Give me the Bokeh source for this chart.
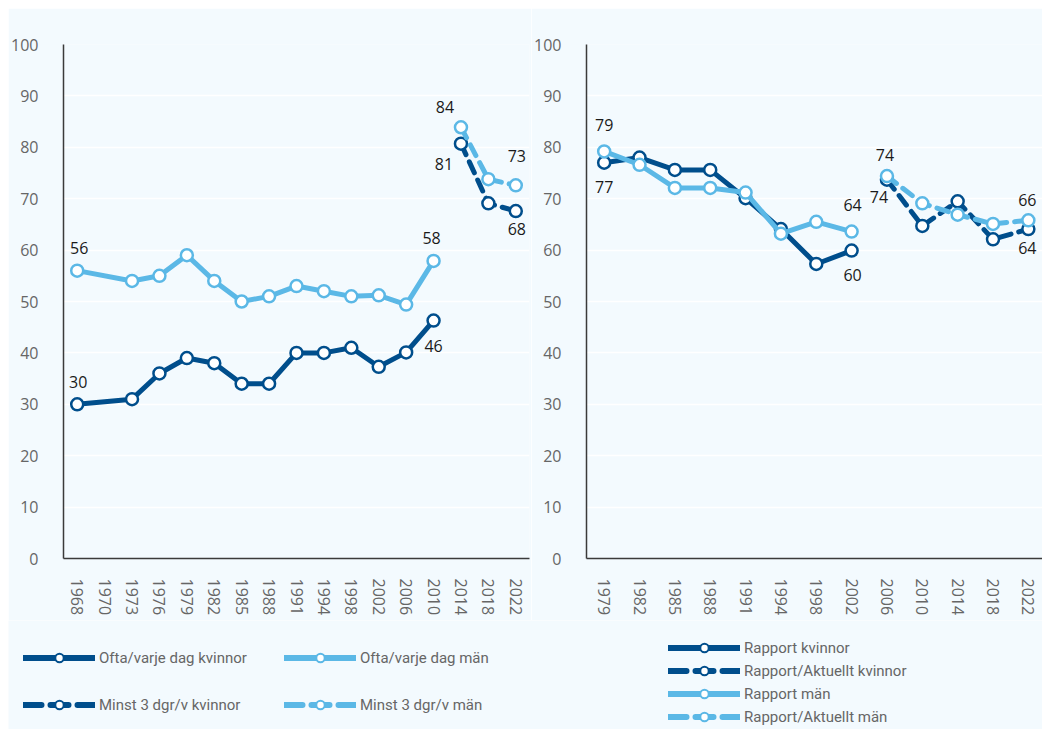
import math
from bokeh.plotting import figure
from bokeh.models import (Range1d, FixedTicker, Legend, LegendItem, ColumnDataSource)
from bokeh.layouts import column, row
from bokeh.core.properties import value
from bokeh.embed import file_html
from bokeh.resources import INLINE

# ---------------- data ----------------
left_years = ["1968", "1970", "1973", "1976", "1979", "1982", "1985", "1988", "1991",
              "1994", "1998", "2002", "2006", "2010", "2014", "2018", "2022"]
ofta_years = ["1968", "1973", "1976", "1979", "1982", "1985", "1988", "1991", "1994",
              "1998", "2002", "2006", "2010"]
ofta_kvinnor = [30, 31, 36, 39, 38, 34, 34, 40, 40, 41, 37.3, 40.1, 46.3]
ofta_man = [56, 54, 55, 59, 54, 50, 51, 53, 52, 51, 51.2, 49.4, 57.9]
minst_years = ["2014", "2018", "2022"]
minst_kvinnor = [80.7, 69.1, 67.6]
minst_man = [83.9, 73.8, 72.6]

right_years = ["1979", "1982", "1985", "1988", "1991", "1994", "1998", "2002",
               "2006", "2010", "2014", "2018", "2022"]
rapport_years = ["1979", "1982", "1985", "1988", "1991", "1994", "1998", "2002"]
rapport_kvinnor = [77.0, 78.0, 75.6, 75.6, 70.1, 64.1, 57.3, 59.9]
rapport_man = [79.2, 76.6, 72.1, 72.1, 71.2, 63.2, 65.5, 63.6]
aktuellt_years = ["2006", "2010", "2014", "2018", "2022"]
aktuellt_kvinnor = [73.7, 64.7, 69.5, 62.1, 64.1]
aktuellt_man = [74.4, 69.1, 66.9, 65.1, 65.8]

y_ticks = list(range(0, 101, 10))

# ---------------- style ----------------
BG = "#f3fafe"
DARK = "#004e8c"
LIGHT = "#5bb8e6"
AXIS = "#3a3a3a"
TICK_TXT = "#666666"
FONT = "Open Sans"
LEG_FONT = "Roboto"
DASH = "12 8"


def base_fig(width, cats, x_end, min_left, min_right):
    p = figure(width=width, height=612, output_backend="svg", toolbar_location=None,
               x_range=Range1d(-0.5, x_end), y_range=Range1d(0, 100),
               min_border_left=min_left, min_border_right=min_right,
               min_border_top=36, min_border_bottom=62)
    p.background_fill_color = BG
    p.border_fill_color = BG
    p.outline_line_color = None
    p.xgrid.grid_line_color = None
    p.ygrid.grid_line_color = "white"
    p.ygrid.grid_line_width = 1.5
    p.yaxis.ticker = FixedTicker(ticks=y_ticks)
    p.xaxis.ticker = FixedTicker(ticks=list(range(len(cats))))
    p.xaxis.major_label_overrides = {i: c for i, c in enumerate(cats)}
    p.xaxis.major_label_orientation = -math.pi / 2
    for ax in (p.xaxis, p.yaxis):
        ax.axis_line_color = AXIS
        ax.axis_line_width = 1.5
        ax.major_tick_line_color = None
        ax.minor_tick_line_color = None
        ax.major_label_text_color = TICK_TXT
        ax.major_label_text_font = FONT
        ax.major_label_text_font_size = "16px"
    p.yaxis.major_label_standoff = 19
    p.xaxis.major_label_standoff = 14
    return p


def series(p, cats, years, vals, color, dash=None):
    xs = [cats.index(y) for y in years]
    src = ColumnDataSource(dict(x=xs, y=vals))
    kw = dict(line_dash=dash, line_cap="round") if dash else dict(line_join="round")
    p.line("x", "y", source=src, line_color=color, line_width=5, **kw)
    p.scatter("x", "y", source=src, marker="circle", size=12, fill_color="white",
              line_color=color, line_width=2.5)


def labels(p, cats, entries):
    xs, ys, ts, dx, dy = [], [], [], [], []
    for years, vals, year, ox, oy in entries:
        i = years.index(year)
        xs.append(cats.index(year))
        ys.append(vals[i])
        ts.append(str(round(vals[i])))
        dx.append(ox)
        dy.append(oy)
    src = ColumnDataSource(dict(x=xs, y=ys, t=ts, dx=dx, dy=dy))
    p.text("x", "y", text="t", source=src, x_offset="dx", y_offset="dy",
           text_align="center", text_baseline="middle", text_color="#1a1a1a",
           text_font=value(FONT), text_font_size="16px")


# ---------------- left chart ----------------
left = base_fig(523, left_years, len(left_years) - 0.5, 51, 2)
series(left, left_years, ofta_years, ofta_kvinnor, DARK)
series(left, left_years, ofta_years, ofta_man, LIGHT)
series(left, left_years, minst_years, minst_kvinnor, DARK, DASH)
series(left, left_years, minst_years, minst_man, LIGHT, DASH)
labels(left, left_years, [
    (ofta_years, ofta_man, "1968", 2, -23),
    (ofta_years, ofta_kvinnor, "1968", 1, -22),
    (ofta_years, ofta_man, "2010", -2, -23),
    (ofta_years, ofta_kvinnor, "2010", 0, 25),
    (minst_years, minst_man, "2014", -16, -20),
    (minst_years, minst_kvinnor, "2014", -17, 20),
    (minst_years, minst_man, "2022", 1, -29),
    (minst_years, minst_kvinnor, "2022", 1, 18),
])

# ---------------- right chart ----------------
right = base_fig(511, right_years, 12.4, 51, 0)
series(right, right_years, rapport_years, rapport_kvinnor, DARK)
series(right, right_years, rapport_years, rapport_man, LIGHT)
series(right, right_years, aktuellt_years, aktuellt_kvinnor, DARK, DASH)
series(right, right_years, aktuellt_years, aktuellt_man, LIGHT, DASH)
labels(right, right_years, [
    (rapport_years, rapport_man, "1979", 0, -26),
    (rapport_years, rapport_kvinnor, "1979", 0, 24),
    (rapport_years, rapport_man, "2002", 1, -27),
    (rapport_years, rapport_kvinnor, "2002", 1, 24),
    (aktuellt_years, aktuellt_man, "2006", -2, -21),
    (aktuellt_years, aktuellt_kvinnor, "2006", -8, 17),
    (aktuellt_years, aktuellt_man, "2022", -1, -20),
    (aktuellt_years, aktuellt_kvinnor, "2022", -1, 19),
])

# ---------------- legends ----------------
leg = figure(width=1034, height=109, output_backend="svg", toolbar_location=None,
             x_range=Range1d(0, 1), y_range=Range1d(0, 1),
             x_axis_type=None, y_axis_type=None,
             min_border_left=0, min_border_right=0, min_border_top=0, min_border_bottom=0)
leg.background_fill_color = BG
leg.border_fill_color = BG
leg.outline_line_color = None


def leg_item(label, color, dash=None):
    kw = dict(line_dash="18 9") if dash else {}
    # off-screen sample glyphs, only used to draw the legend keys
    lr = leg.line([-5, -4], [-5, -5], line_color=color, line_width=6, line_cap="round", **kw)
    sr = leg.scatter([-5], [-5], marker="circle", size=10, fill_color="white",
                     line_color=color, line_width=2)
    return LegendItem(label=label, renderers=[lr, sr])


def make_legend(items, loc, spacing):
    lg = Legend(items=items, location=loc, orientation="vertical", spacing=spacing,
                padding=0, margin=0, glyph_width=72, glyph_height=21, label_height=21,
                label_standoff=4, label_text_font=LEG_FONT, label_text_font_size="15px",
                label_text_color=TICK_TXT, border_line_color=None,
                background_fill_alpha=0)
    leg.add_layout(lg, "center")


make_legend([leg_item("Ofta/varje dag kvinnor", DARK),
             leg_item("Minst 3 dgr/v kvinnor", DARK, True)], (15, 14), 26)
make_legend([leg_item("Ofta/varje dag män", LIGHT),
             leg_item("Minst 3 dgr/v män", LIGHT, True)], (276, 14), 26)
make_legend([leg_item("Rapport kvinnor", DARK),
             leg_item("Rapport/Aktuellt kvinnor", DARK, True),
             leg_item("Rapport män", LIGHT),
             leg_item("Rapport/Aktuellt män", LIGHT, True)], (660, 2), 2)

layout = column(row(left, right), leg, margin=(8, 0, 0, 8))
open("out.html", "w").write(file_html(layout, INLINE))
